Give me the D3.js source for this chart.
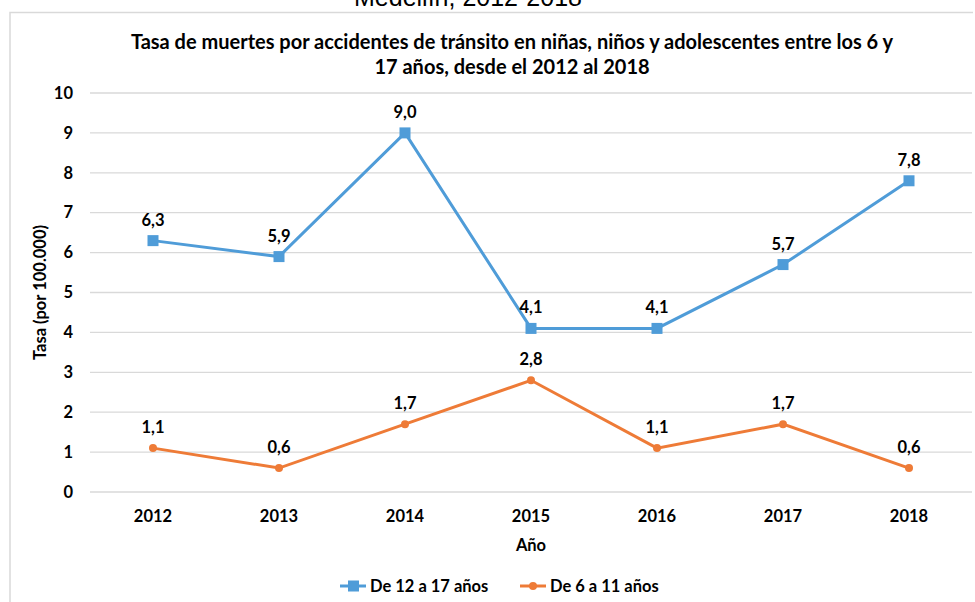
<!DOCTYPE html>
<html>
<head>
<meta charset="utf-8">
<script src="https://cdn.jsdelivr.net/npm/d3@7"></script>
<style>
  html, body { margin: 0; padding: 0; background: #fff; }
  svg { display: block; }
  text { font-family: Lato, "Open Sans", sans-serif; fill: #000; }
</style>
</head>
<body>
<svg id="chart" width="975" height="602"></svg>
<script>
// Years on the category axis
const years = ["2012", "2013", "2014", "2015", "2016", "2017", "2018"];
// Rates per 100.000 by age group
const teens = [6.3, 5.9, 9.0, 4.1, 4.1, 5.7, 7.8];
const children = [1.1, 0.6, 1.7, 2.8, 1.1, 1.7, 0.6];
const yTicks = [0, 1, 2, 3, 4, 5, 6, 7, 8, 9, 10];
const seriesNames = ["De 12 a 17 años", "De 6 a 11 años"];
const titleLines = [
  "Tasa de muertes por accidentes de tránsito en niñas, niños y adolescentes entre los 6 y",
  "17 años, desde el 2012 al 2018"
];

const svg = d3.select("#chart");
const W = 975, H = 602;
const plot = { left: 90, right: 972, top: 93, bottom: 492 };
const labelSize = "16.5px";

// Outer frame of the chart area
svg.append("path")
  .attr("d", `M10,${H} L10,12.5 L${W - 2},12.5`)
  .attr("fill", "none").attr("stroke", "#d9d9d9").attr("stroke-width", 1.5);

// Heading above the frame, partly cropped at the top edge
svg.append("text")
  .attr("x", 468).attr("y", 6)
  .attr("text-anchor", "middle")
  .style("font-family", "'Liberation Sans', Arial, sans-serif")
  .style("font-size", "25px")
  .text("Medellín, 2012-2018");

// Chart title
svg.selectAll("text.title").data(titleLines).join("text")
  .attr("class", "title")
  .attr("x", 512).attr("y", (d, i) => 49 + i * 25)
  .attr("text-anchor", "middle")
  .style("font-size", "20px").style("font-weight", "bold")
  .text(d => d);

const x = d3.scaleBand().domain(years).range([plot.left, plot.right]);
const y = d3.scaleLinear().domain([0, 10]).range([plot.bottom, plot.top]);

// Horizontal gridlines
svg.append("g").selectAll("line").data(yTicks).join("line")
  .attr("x1", plot.left).attr("x2", plot.right)
  .attr("y1", d => y(d)).attr("y2", d => y(d))
  .attr("stroke", "#d9d9d9").attr("stroke-width", 1.3);

// Y axis labels
const yAxis = svg.append("g")
  .attr("transform", `translate(${plot.left - 17},0)`)
  .call(d3.axisLeft(y).tickValues(yTicks).tickSize(0).tickPadding(0).tickFormat(d3.format("d")));
yAxis.select(".domain").remove();
yAxis.selectAll("text")
  .style("font-family", "Lato, 'Open Sans', sans-serif")
  .style("font-size", labelSize).style("font-weight", "bold").attr("fill", "#000");

// X axis labels
const xAxis = svg.append("g")
  .attr("transform", `translate(0,${plot.bottom + 18})`)
  .call(d3.axisBottom(x).tickSize(0).tickPadding(0));
xAxis.select(".domain").remove();
xAxis.selectAll("text")
  .style("font-family", "Lato, 'Open Sans', sans-serif")
  .style("font-size", labelSize).style("font-weight", "bold").attr("fill", "#000");

// Axis titles
svg.append("text")
  .attr("x", x("2015") + x.bandwidth() / 2).attr("y", 551)
  .attr("text-anchor", "middle")
  .style("font-size", labelSize).style("font-weight", "bold")
  .text("Año");
svg.append("text")
  .attr("transform", `translate(46,${(plot.top + plot.bottom) / 2}) rotate(-90)`)
  .attr("text-anchor", "middle")
  .style("font-size", labelSize).style("font-weight", "bold")
  .text("Tasa (por 100.000)");

const cx = (d, i) => x(years[i]) + x.bandwidth() / 2;
const line = d3.line().x(cx).y(d => y(d));
const fmt = v => d3.format(".1f")(v).replace(".", ",");

const series = [
  { name: seriesNames[0], values: teens, color: "#4F9CD8", marker: "square" },
  { name: seriesNames[1], values: children, color: "#EE7B37", marker: "circle" }
];

series.forEach(s => {
  const g = svg.append("g");
  g.append("path")
    .attr("d", line(s.values))
    .attr("fill", "none").attr("stroke", s.color).attr("stroke-width", 3);
  if (s.marker === "square") {
    g.selectAll("rect").data(s.values).join("rect")
      .attr("x", (d, i) => cx(d, i) - 5.5).attr("y", d => y(d) - 5.5)
      .attr("width", 11).attr("height", 11).attr("fill", s.color);
  } else {
    g.selectAll("circle").data(s.values).join("circle")
      .attr("cx", cx).attr("cy", d => y(d)).attr("r", 4).attr("fill", s.color);
  }
  g.selectAll("text").data(s.values).join("text")
    .attr("x", cx).attr("y", d => y(d) - 15)
    .attr("text-anchor", "middle")
    .style("font-size", labelSize).style("font-weight", "bold")
    .text(fmt);
});

// Legend
const legendItems = [
  { x: 340, s: series[0] },
  { x: 520, s: series[1] }
];
legendItems.forEach(item => {
  const g = svg.append("g").attr("transform", `translate(${item.x},586)`);
  g.append("line").attr("x1", 0).attr("x2", 26).attr("y1", 0).attr("y2", 0)
    .attr("stroke", item.s.color).attr("stroke-width", 3);
  if (item.s.marker === "square") {
    g.append("rect").attr("x", 8).attr("y", -5.5).attr("width", 11).attr("height", 11).attr("fill", item.s.color);
  } else {
    g.append("circle").attr("cx", 13).attr("cy", 0).attr("r", 4).attr("fill", item.s.color);
  }
  g.append("text").attr("x", 30).attr("y", 6)
    .style("font-size", labelSize).style("font-weight", "bold")
    .text(item.s.name);
});
</script>
</body>
</html>
